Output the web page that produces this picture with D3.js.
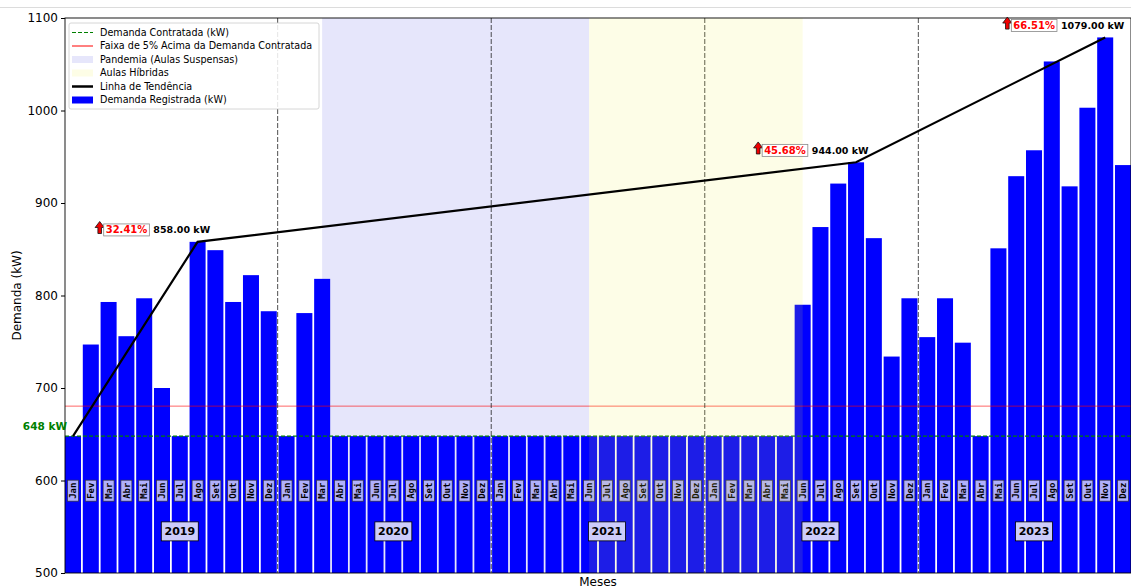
<!DOCTYPE html>
<html>
<head>
<meta charset="utf-8">
<script src="https://d3js.org/d3.v7.min.js"></script>
<style>
  html, body { margin: 0; padding: 0; background: #fff; }
  svg { display: block; font-family: "DejaVu Sans", sans-serif; }
</style>
</head>
<body>
<svg id="chart" width="1131" height="588"></svg>
<script>
// ---------- DATA ----------
const months = ["Jan","Fev","Mar","Abr","Mai","Jun","Jul","Ago","Set","Out","Nov","Dez"];
const years = [2019, 2020, 2021, 2022, 2023];
const demand2019 = [648, 747, 793, 756, 797, 700, 648, 858, 849, 793, 822, 783];
const demand2020 = [648, 781, 818, 648, 648, 648, 648, 648, 648, 648, 648, 648];
const demand2021 = [648, 648, 648, 648, 648, 648, 648, 648, 648, 648, 648, 648];
const demand2022 = [648, 648, 648, 648, 648, 790, 874, 921, 944, 862, 734, 797];
const demand2023 = [755, 797, 749, 648, 851, 929, 957, 1053, 918, 1003, 1079, 941];
const contractedDemand = 648;
const toleranceBand = 0.05;
const trendIndices = [0, 7, 44, 58];       // points of the trend line (month index)
const peakIndices = [7, 44, 58];           // annotated peaks
const pandemicRange = [14, 29];            // month index range
const hybridRange = [29, 41];
const yTicks = [500, 600, 700, 800, 900, 1000, 1100];

// ---------- BUILD ----------
const allDemand = [].concat(demand2019, demand2020, demand2021, demand2022, demand2023);
const rows = [];
years.forEach((yr, yi) => months.forEach((m, mi) => {
  const i = yi * 12 + mi;
  rows.push({ i, month: m, year: yr, value: allDemand[i] });
}));

const svg = d3.select("#chart");
const W = 1131, H = 588;
const pL = 65, pR = 1131, pT = 18, pB = 573;

const x = d3.scaleLinear().domain([-0.45, rows.length - 0.55]).range([pL, pR]);
const y = d3.scaleLinear().domain([500, 1100]).range([pB, pT]);
const bw = (x(1) - x(0)) * 0.9;

// figure top border line
svg.append("line").attr("x1", 0).attr("x2", W).attr("y1", 7.5).attr("y2", 7.5)
  .attr("stroke", "#dcdcdc").attr("stroke-width", 1);

svg.append("defs").append("clipPath").attr("id", "plotclip")
  .append("rect").attr("x", pL).attr("y", pT).attr("width", pR - pL).attr("height", pB - pT);

const plot = svg.append("g").attr("clip-path", "url(#plotclip)");

// pandemic span (behind bars)
plot.append("rect")
  .attr("x", x(pandemicRange[0])).attr("width", x(pandemicRange[1]) - x(pandemicRange[0]))
  .attr("y", pT).attr("height", pB - pT)
  .attr("fill", "#e6e6fb");

// bars
plot.selectAll("rect.bar").data(rows).join("rect")
  .attr("class", "bar")
  .attr("x", d => x(d.i) - bw / 2)
  .attr("width", bw)
  .attr("y", d => y(d.value))
  .attr("height", d => pB - y(d.value))
  .attr("fill", "#0000ff");

// 5% band line
plot.append("line")
  .attr("x1", pL).attr("x2", pR)
  .attr("y1", y(contractedDemand * (1 + toleranceBand))).attr("y2", y(contractedDemand * (1 + toleranceBand)))
  .attr("stroke", "#ff0000").attr("stroke-opacity", 0.6).attr("stroke-width", 1);

// contracted demand line
plot.append("line")
  .attr("x1", pL).attr("x2", pR)
  .attr("y1", y(contractedDemand)).attr("y2", y(contractedDemand))
  .attr("stroke", "#008000").attr("stroke-width", 1.2).attr("stroke-dasharray", "4,2");

// year separators
years.slice(1).forEach((yr, k) => {
  const xi = x((k + 1) * 12 - 0.5);
  plot.append("line")
    .attr("x1", xi).attr("x2", xi).attr("y1", pT).attr("y2", pB)
    .attr("stroke", "#222").attr("stroke-width", 0.8).attr("stroke-dasharray", "5,2");
});

// month labels
const mLab = plot.selectAll("g.mlab").data(rows).join("g")
  .attr("class", "mlab")
  .attr("transform", d => `translate(${x(d.i)},${y(589)}) rotate(-90)`);
mLab.append("rect")
  .attr("x", -10.5).attr("y", -5.5).attr("width", 21).attr("height", 11)
  .attr("fill", "rgb(176,176,252)").attr("stroke", "#333").attr("stroke-width", 0.7);
mLab.append("text")
  .attr("text-anchor", "middle").attr("dy", "0.35em")
  .attr("font-family", "'DejaVu Sans Mono', monospace").attr("font-weight", "bold")
  .attr("font-size", 9).attr("fill", "#000")
  .text(d => d.month);

// hybrid overlay over the bars
plot.append("rect")
  .attr("x", x(hybridRange[0])).attr("width", x(hybridRange[1]) - x(hybridRange[0]))
  .attr("y", pT).attr("height", pB - pT)
  .attr("fill", "rgb(240,240,56)").attr("opacity", 0.12);

// trend line
const trendPts = trendIndices.map(i => [i, allDemand[i]]);
plot.append("path")
  .attr("d", d3.line().x(d => x(d[0])).y(d => y(d[1]))(trendPts))
  .attr("fill", "none").attr("stroke", "#000").attr("stroke-width", 2.2);

// year labels
years.forEach((yr, k) => {
  const g = plot.append("g").attr("transform", `translate(${x(k * 12 + 6)},${y(545)})`);
  g.append("rect").attr("x", -18.5).attr("y", -9.5).attr("width", 37).attr("height", 19)
    .attr("fill", "rgb(204,204,250)").attr("stroke", "#000").attr("stroke-width", 0.8);
  g.append("text").attr("text-anchor", "middle").attr("dy", "0.36em")
    .attr("font-weight", "bold").attr("font-size", 11).attr("fill", "#000").text(yr);
});

// axes
const yAxis = d3.axisLeft(y).tickValues(yTicks).tickFormat(d3.format("d")).tickSize(4).tickPadding(3);
const ya = svg.append("g").attr("transform", `translate(${pL},0)`).call(yAxis);
ya.selectAll("text").attr("font-size", 12).attr("font-family", "'DejaVu Sans', sans-serif").attr("fill", "#000");
ya.select(".domain").remove();
ya.selectAll(".tick line").attr("stroke", "#000");

svg.append("rect").attr("x", pL).attr("y", pT).attr("width", pR - pL).attr("height", pB - pT)
  .attr("fill", "none").attr("stroke", "#000").attr("stroke-width", 0.9);

svg.append("text").attr("transform", `translate(21,${(pT + pB) / 2}) rotate(-90)`)
  .attr("text-anchor", "middle").attr("font-size", 12).text("Demanda (kW)");
svg.append("text").attr("x", (pL + pR) / 2).attr("y", 586)
  .attr("text-anchor", "middle").attr("font-size", 12).text("Meses");

// 648 kW label
svg.append("text").attr("x", 67).attr("y", y(contractedDemand) - 6)
  .attr("text-anchor", "end").attr("font-size", 10.5).attr("font-weight", "bold")
  .attr("fill", "#008000").text(contractedDemand + " kW");

// peak annotations
peakIndices.forEach(pi => {
  const v = allDemand[pi];
  const ax = x(pi - 5.5);
  const pct = ((v / contractedDemand - 1) * 100).toFixed(2) + "%";
  const g = svg.append("g");
  const tipY = y(v + 22), baseY = y(v + 9);
  const headH = 6, hw = 4.6, sw = 1.8;
  g.append("path")
    .attr("d", `M${ax},${tipY} L${ax + hw},${tipY + headH} L${ax + sw},${tipY + headH} L${ax + sw},${baseY} L${ax - sw},${baseY} L${ax - sw},${tipY + headH} L${ax - hw},${tipY + headH} Z`)
    .attr("fill", "#ee0000").attr("stroke", "#111").attr("stroke-width", 0.8);
  const ty = y(v + 13);
  const t = g.append("text").attr("x", ax + 6).attr("y", ty).attr("dy", "0.36em")
    .attr("font-size", 10).attr("font-weight", "bold").attr("fill", "#ff0000").text(pct);
  const bb = t.node().getBBox();
  g.insert("rect", "text").attr("x", bb.x - 2).attr("y", bb.y - 0.5).attr("width", bb.width + 4).attr("height", bb.height + 1)
    .attr("fill", "#fff").attr("stroke", "#888").attr("stroke-width", 0.8);
  g.append("text").attr("x", bb.x + bb.width + 6).attr("y", ty).attr("dy", "0.36em")
    .attr("font-size", 9.5).attr("font-weight", "bold").attr("fill", "#000").text(v.toFixed(2) + " kW");
});

// legend
const legendItems = [
  { label: "Demanda Contratada (kW)", type: "line", color: "#008000", dash: "4,2", w: 1 },
  { label: "Faixa de 5% Acima da Demanda Contratada", type: "line", color: "#ff0000", w: 1 },
  { label: "Pandemia (Aulas Suspensas)", type: "patch", color: "#e6e6fb" },
  { label: "Aulas Híbridas", type: "patch", color: "#fdfde6" },
  { label: "Linha de Tendência", type: "line", color: "#000", w: 2.5 },
  { label: "Demanda Registrada (kW)", type: "patch", color: "#0000ff" }
];
const lg = svg.append("g").attr("transform", "translate(69,23)");
lg.append("rect").attr("width", 250).attr("height", 86).attr("rx", 2)
  .attr("fill", "#fff").attr("fill-opacity", 0.85).attr("stroke", "#ccc").attr("stroke-width", 0.8);
legendItems.forEach((it, k) => {
  const cy = 9.5 + k * 13.5;
  if (it.type === "line") {
    lg.append("line").attr("x1", 3).attr("x2", 24).attr("y1", cy).attr("y2", cy)
      .attr("stroke", it.color).attr("stroke-width", it.w).attr("stroke-dasharray", it.dash || null);
  } else {
    lg.append("rect").attr("x", 3).attr("y", cy - 3.5).attr("width", 21).attr("height", 7).attr("fill", it.color);
  }
  lg.append("text").attr("x", 31).attr("y", cy).attr("dy", "0.35em").attr("font-size", 9.6)
    .attr("fill", "#000").text(it.label);
});
</script>
</body>
</html>
